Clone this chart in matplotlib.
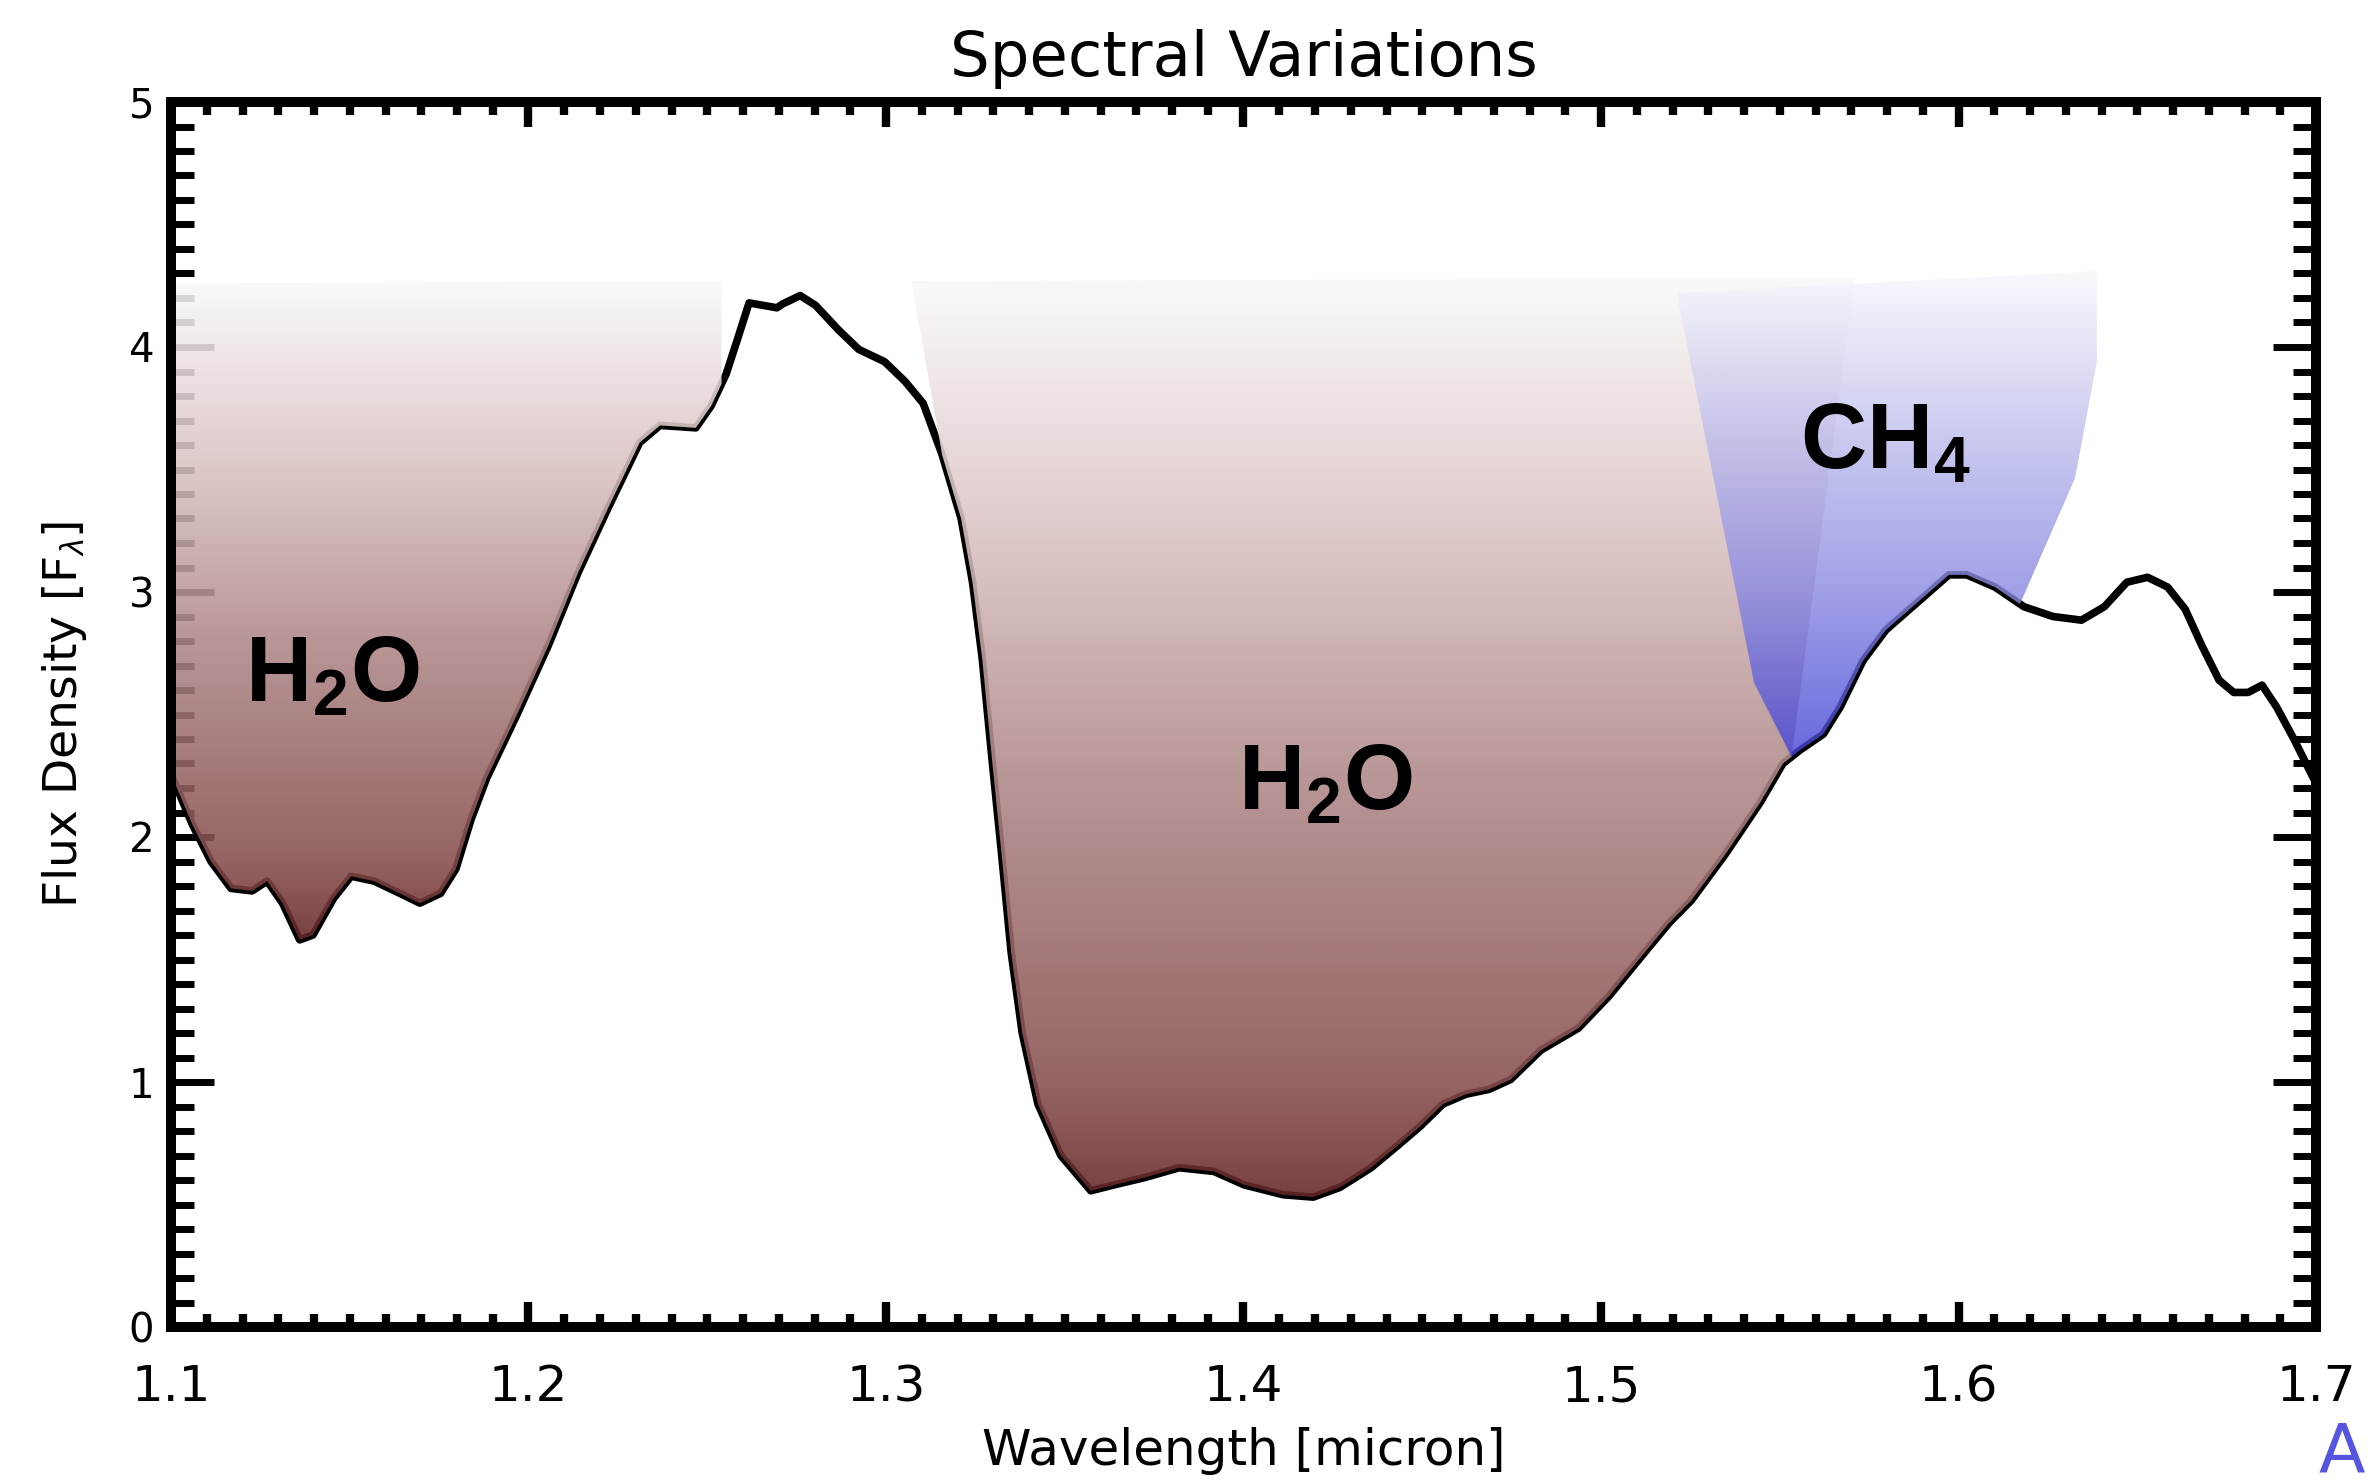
import numpy as np
import matplotlib
matplotlib.use("Agg")
import matplotlib.pyplot as plt
from matplotlib.patches import Polygon
from matplotlib.colors import LinearSegmentedColormap
from matplotlib.ticker import MultipleLocator, FixedLocator

plt.rcParams['font.family'] = ['DejaVu Sans']
plt.rcParams['mathtext.fontset'] = 'custom'
plt.rcParams['mathtext.rm'] = 'Liberation Sans'
plt.rcParams['mathtext.bf'] = 'Liberation Sans:bold'
plt.rcParams['mathtext.it'] = 'Liberation Sans:italic'

# ---------------- data ----------------
wavelength = np.array([
    1.100, 1.1005, 1.1060, 1.1112, 1.1168, 1.1227, 1.1269, 1.1312, 1.1360, 1.1397,
    1.1455, 1.1504, 1.1568, 1.1640, 1.1696, 1.1754, 1.1797, 1.1839, 1.1883, 1.1968,
    1.2055, 1.2139, 1.2225, 1.2311, 1.2368, 1.2468, 1.2511, 1.2553, 1.2582, 1.2617,
    1.2695, 1.2710, 1.2760, 1.2803, 1.2867, 1.2924, 1.2996, 1.3053, 1.3104, 1.3157,
    1.3210, 1.3242, 1.3269, 1.3297, 1.3322, 1.3350, 1.3381, 1.3425, 1.3489, 1.3573,
    1.3638, 1.3724, 1.3820, 1.3917, 1.4002, 1.4110, 1.4195, 1.4270, 1.4357, 1.4431,
    1.4495, 1.4558, 1.4622, 1.4687, 1.4747, 1.4832, 1.4937, 1.5022, 1.5106, 1.5191,
    1.5252, 1.5348, 1.5445, 1.5509, 1.5557, 1.5622, 1.5669, 1.5733, 1.5797, 1.5895,
    1.5973, 1.6023, 1.6102, 1.6183, 1.6264, 1.6344, 1.6408, 1.6471, 1.6529, 1.6585,
    1.6634, 1.6681, 1.6729, 1.6770, 1.6810, 1.6849, 1.6890, 1.6938, 1.6986, 1.7000])
flux = np.array([
    2.27, 2.24, 2.05, 1.90, 1.79, 1.78, 1.82, 1.73, 1.58, 1.60,
    1.75, 1.84, 1.82, 1.77, 1.73, 1.77, 1.87, 2.07, 2.24, 2.50,
    2.78, 3.08, 3.35, 3.61, 3.68, 3.67, 3.76, 3.89, 4.02, 4.18,
    4.16, 4.175, 4.21, 4.17, 4.07, 3.99, 3.94, 3.86, 3.77, 3.56,
    3.30, 3.04, 2.73, 2.31, 1.95, 1.53, 1.20, 0.91, 0.70, 0.556,
    0.58, 0.61, 0.65, 0.635, 0.58, 0.54, 0.53, 0.57, 0.65, 0.74,
    0.82, 0.91, 0.95, 0.97, 1.01, 1.13, 1.22, 1.35, 1.50, 1.65,
    1.74, 1.93, 2.14, 2.30, 2.355, 2.42, 2.53, 2.72, 2.845, 2.97,
    3.07, 3.07, 3.02, 2.94, 2.90, 2.885, 2.94, 3.04, 3.06, 3.02,
    2.93, 2.78, 2.64, 2.59, 2.59, 2.62, 2.53, 2.40, 2.26, 2.22])

x_ticks = [1.1, 1.2, 1.3, 1.4, 1.5, 1.6, 1.7]
x_tick_labels = ["1.1", "1.2", "1.3", "1.4", "1.5", "1.6", "1.7"]
y_ticks = [0, 1, 2, 3, 4, 5]
y_tick_labels = ["0", "1", "2", "3", "4", "5"]

# absorption bands: top edge, extra right-edge points, curve join range, extra left-edge points
h2o_a_top = [(1.100, 4.26), (1.254, 4.27)]
h2o_a_join = (1.100, 1.254)
h2o_b_top = [(1.3071, 4.27), (1.571, 4.28)]
h2o_b_join = (1.3157, 1.5533)
ch4_top = [(1.5212, 4.22), (1.6387, 4.31)]
ch4_right = [(1.6387, 3.94), (1.6326, 3.465)]
ch4_join = (1.5533, 1.6172)
ch4_left = [(1.5428, 2.63)]

labels = [("$\\mathbf{H_2O}$", 1.1452, 2.66), ("$\\mathbf{H_2O}$", 1.4228, 2.22),
          ("$\\mathbf{CH_4}$", 1.5795, 3.61)]

# ---------------- figure ----------------
W, H = 2368, 1484
fig = plt.figure(figsize=(W / 100, H / 100), dpi=100)
ax = fig.add_axes([171 / W, 1 - 1327 / H, (2316 - 171) / W, (1327 - 102) / H])

ax.plot(wavelength, flux, color='black', lw=5.5, solid_joinstyle='round',
        solid_capstyle='round', zorder=2)


def band_polygon(top, join, right_extra=(), left_extra=()):
    xl, xr = join
    m = (wavelength > xl) & (wavelength < xr)
    pts = list(top) + list(right_extra)
    pts.append((xr, np.interp(xr, wavelength, flux)))
    pts += list(zip(wavelength[m][::-1], flux[m][::-1]))
    pts.append((xl, np.interp(xl, wavelength, flux)))
    pts += list(left_extra)
    return pts


def gradient_fill(pts, cmap, alpha, zorder):
    poly = Polygon(pts, closed=True, transform=ax.transData,
                   facecolor='none', edgecolor='none')
    ax.add_patch(poly)
    xs = [p[0] for p in pts]
    ys = [p[1] for p in pts]
    grad = np.linspace(0, 1, 512).reshape(-1, 1)
    im = ax.imshow(grad, extent=[min(xs), max(xs), min(ys), max(ys)],
                   origin='lower', aspect='auto', cmap=cmap, alpha=alpha,
                   zorder=zorder, interpolation='bilinear')
    im.set_clip_path(poly)
    return im


brown = LinearSegmentedColormap.from_list("brown", [
    (0.0, (102/255, 39/255, 39/255)),
    (0.125, (136/255, 79/255, 79/255)),
    (0.45, (175/255, 135/255, 135/255)),
    (0.74, (221/255, 198/255, 198/255)),
    (1.0, (250/255, 249/255, 249/255))])
blue = LinearSegmentedColormap.from_list("blue", [
    (0.0, (67/255, 67/255, 214/255)),
    (0.335, (136/255, 136/255, 226/255)),
    (0.64, (186/255, 186/255, 236/255)),
    (1.0, (248/255, 248/255, 252/255))])

gradient_fill(band_polygon(h2o_a_top, h2o_a_join), brown, 0.88, 3)
gradient_fill(band_polygon(h2o_b_top, h2o_b_join), brown, 0.88, 3)
gradient_fill(band_polygon(ch4_top, ch4_join, ch4_right, ch4_left), blue, 0.8, 4)

for txt, x, y in labels:
    ax.text(x, y, txt, fontsize=66, ha='center', va='center', zorder=6)

ax.set_xlim(1.1, 1.7)
ax.set_ylim(0, 5)
ax.xaxis.set_major_locator(FixedLocator(x_ticks))
ax.set_xticklabels(x_tick_labels)
ax.yaxis.set_major_locator(FixedLocator(y_ticks))
ax.set_yticklabels(y_tick_labels)
ax.xaxis.set_minor_locator(MultipleLocator(0.01))
ax.yaxis.set_minor_locator(MultipleLocator(0.1))

ax.tick_params(which='both', direction='in', top=True, right=True, color='black')
ax.tick_params(axis='x', which='major', length=18, width=6, labelsize=36, pad=26)
ax.tick_params(axis='x', which='minor', length=9.5, width=6)
ax.tick_params(axis='y', which='major', length=31, width=5, labelsize=29, pad=12)
ax.tick_params(axis='y', which='minor', length=16.5, width=5)

for sp in ax.spines.values():
    sp.set_linewidth(7.2)
    sp.set_zorder(5)

ax.set_title("Spectral Variations", fontsize=45, pad=19)
ax.set_xlabel("Wavelength [micron]", fontsize=36)
ax.xaxis.set_label_coords(0.5, -0.082)
ax.set_ylabel("Flux Density [F$_{\\lambda}$]", fontsize=34)
ax.yaxis.set_label_coords(-0.038, 0.5)

fig.text(2318 / W, 1 - 1473 / H, "A", color='#5555e0', fontsize=49,
         ha='left', va='baseline')

fig.savefig("out.png", dpi=100)
